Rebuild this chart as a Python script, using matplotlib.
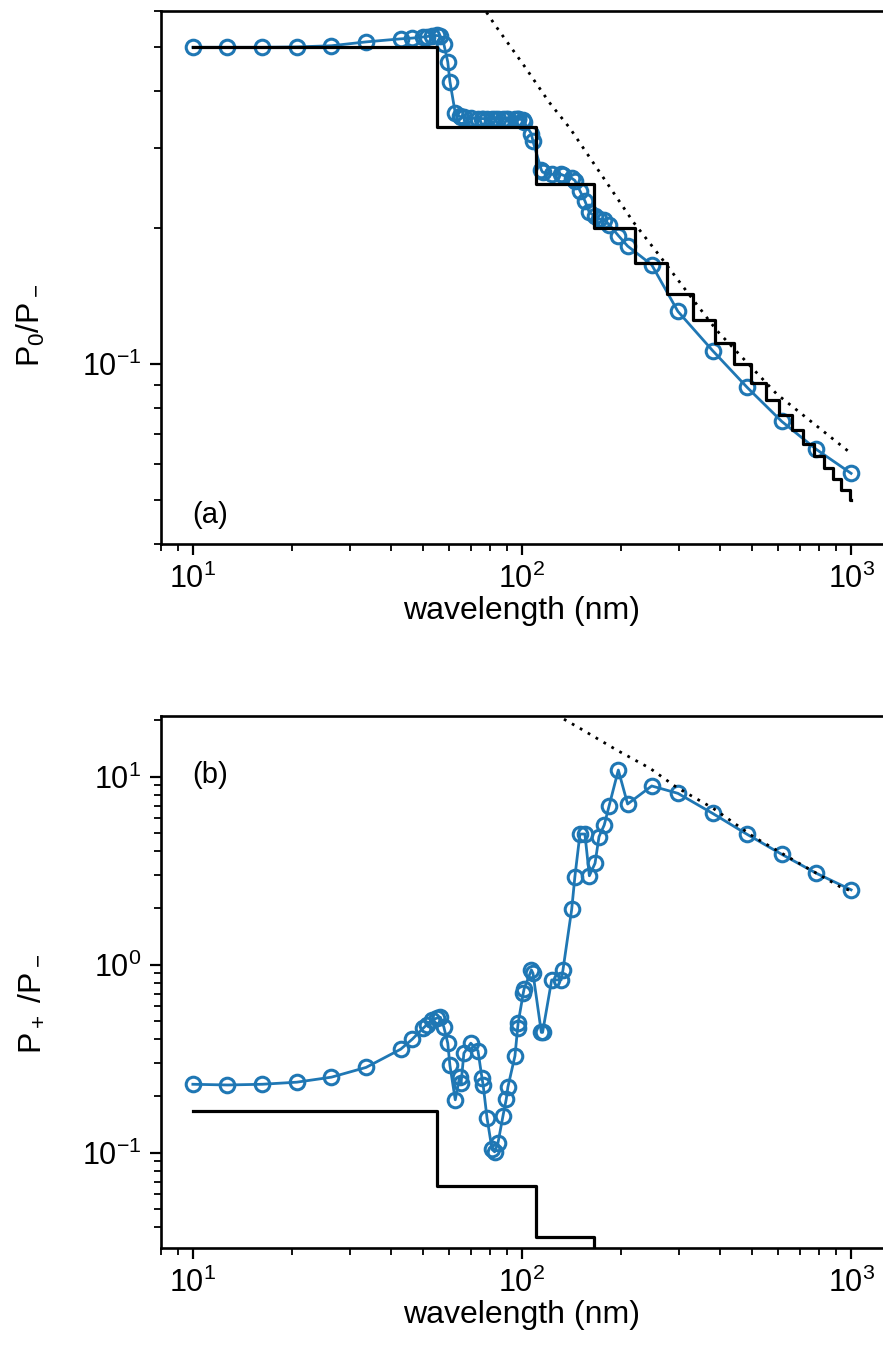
import matplotlib
matplotlib.use('Agg')
import matplotlib.pyplot as plt
from matplotlib.ticker import NullFormatter, LogLocator

plt.rcParams['font.family'] = ['Liberation Sans', 'DejaVu Sans']
plt.rcParams['mathtext.fontset'] = 'custom'
plt.rcParams['mathtext.rm'] = 'Liberation Sans'
plt.rcParams['mathtext.it'] = 'Liberation Sans:italic'
plt.rcParams['mathtext.default'] = 'regular'

# wavelengths (nm) of the computed points
wavelength = [10, 12.74, 16.24, 20.69, 26.37, 33.6, 42.81, 46.4, 50.1, 51.3,
              53.2, 55.1, 56.5, 57.9, 59.5, 60.4, 62.7, 64.6, 65.3, 66.6,
              69.9, 73.5, 75.6, 76.2, 78.3, 81.1, 82.6, 84.5, 87.5, 89.6,
              90.6, 95.2, 97.0, 97.4, 100.9, 101.5, 106.8, 108.0, 114.5, 115.5,
              123.1, 131.5, 133.2, 141.6, 144.8, 150.0, 155.3, 160.2, 166.7, 171.4,
              177.8, 184.0, 196.2, 209.4, 247.8, 297.6, 379.3, 483.3, 615.8, 784.8,
              1000]

# P0/P- (panel a)
p0_ratio = [0.500, 0.500, 0.500, 0.501, 0.504, 0.514, 0.522, 0.524, 0.527, 0.528,
            0.530, 0.531, 0.529, 0.508, 0.464, 0.420, 0.358, 0.352, 0.351, 0.350,
            0.349, 0.348, 0.348, 0.348, 0.348, 0.348, 0.348, 0.348, 0.348, 0.348,
            0.347, 0.347, 0.347, 0.347, 0.346, 0.342, 0.322, 0.310, 0.268, 0.265,
            0.262, 0.262, 0.261, 0.257, 0.254, 0.241, 0.229, 0.216, 0.212, 0.209,
            0.208, 0.203, 0.192, 0.182, 0.1655, 0.1306, 0.107, 0.0887, 0.0746, 0.0647,
            0.0573]

# P+/P- (panel b)
pplus_ratio = [0.231, 0.229, 0.231, 0.237, 0.252, 0.284, 0.355, 0.401, 0.459, 0.478,
               0.508, 0.519, 0.525, 0.465, 0.382, 0.291, 0.191, 0.251, 0.234, 0.338,
               0.382, 0.348, 0.249, 0.229, 0.153, 0.104, 0.101, 0.112, 0.156, 0.193,
               0.223, 0.327, 0.459, 0.492, 0.705, 0.743, 0.937, 0.900, 0.436, 0.436,
               0.829, 0.829, 0.937, 1.97, 2.94, 4.95, 4.95, 2.97, 3.46, 4.79,
               5.53, 7.00, 10.84, 7.15, 8.92, 8.15, 6.38, 4.93, 3.86, 3.06,
               2.50]

# step (grating-order) curves
step_x = [10, 55, 110, 165, 220, 275, 330, 385, 440, 495, 550, 605, 660,
          715, 770, 825, 880, 935, 990, 1000]
step_a = [1/2, 1/3, 1/4, 1/5, 1/6, 1/7, 1/8, 1/9, 1/10, 1/11, 1/12, 1/13, 1/14,
          1/15, 1/16, 1/17, 1/18, 1/19, 1/20, 1/20]
step_bx = [10, 55, 110, 165, 220]
step_b = [1/6, 1/15, 1/28, 1/45, 1/45]

# asymptotic (dotted) curves
asym_ax = [75, 77.7, 82.8, 102, 121, 140, 218, 262.8, 318, 390.7, 594, 1000]
asym_a = [0.62, 0.60, 0.56, 0.453, 0.378, 0.331, 0.2056, 0.1727, 0.1439, 0.1185, 0.0858, 0.0634]
asym_bx = [120, 150.1, 194, 245, 295, 381, 505, 668, 925, 1000]
asym_b = [22.6, 18.06, 13.85, 11.07, 8.77, 6.785, 4.79, 3.60, 2.598, 2.465]

blue = '#1f77b4'

fig = plt.figure(figsize=(8.83, 13.48), dpi=100)
ax1 = fig.add_axes([0.1823, 0.5964, 0.8177, 0.3951])
ax2 = fig.add_axes([0.1823, 0.0740, 0.8177, 0.3948])


def style(ax, ylabel, ylab_y):
    ax.set_xscale('log')
    ax.set_yscale('log')
    ax.set_xlim(8, 1250)
    ax.spines['right'].set_visible(False)
    for s in ['left', 'bottom', 'top']:
        ax.spines[s].set_linewidth(1.9)
    ax.tick_params(which='major', direction='out', length=8, width=1.6,
                   labelsize=22, pad=6, right=False, top=False)
    ax.tick_params(which='minor', direction='out', length=5, width=1.3,
                   right=False, top=False)
    ax.yaxis.set_minor_locator(LogLocator(base=10, subs=range(2, 10), numticks=20))
    ax.yaxis.set_minor_formatter(NullFormatter())
    ax.xaxis.set_minor_formatter(NullFormatter())
    ax.set_xlabel('wavelength (nm)', fontsize=23, labelpad=1)
    ax.set_ylabel(ylabel, fontsize=23)
    ax.yaxis.set_label_coords(-0.158, ylab_y)


# panel (a)
ax1.plot(wavelength, p0_ratio, '-o', color=blue, lw=2.0, ms=10.5, mfc='none', mew=2.2)
ax1.plot(step_x, step_a, color='black', lw=2.3, drawstyle='steps-post')
ax1.plot(asym_ax, asym_a, color='black', lw=2.0, linestyle=(0, (1, 2.3)))
ax1.set_ylim(0.04, 0.6)
style(ax1, r'P$_0$/P$_-$', 0.41)
ax1.text(0.044, 0.054, '(a)', transform=ax1.transAxes, fontsize=21, va='center')

# panel (b)
ax2.plot(wavelength, pplus_ratio, '-o', color=blue, lw=2.0, ms=10.5, mfc='none', mew=2.2)
ax2.plot(step_bx, step_b, color='black', lw=2.3, drawstyle='steps-post')
ax2.plot(asym_bx, asym_b, color='black', lw=2.0, linestyle=(0, (1, 2.3)))
ax2.set_ylim(0.031, 21)
style(ax2, r'P$_+$ /P$_-$', 0.46)
ax2.text(0.044, 0.889, '(b)', transform=ax2.transAxes, fontsize=21, va='center')

fig.savefig('out.png', dpi=100)
